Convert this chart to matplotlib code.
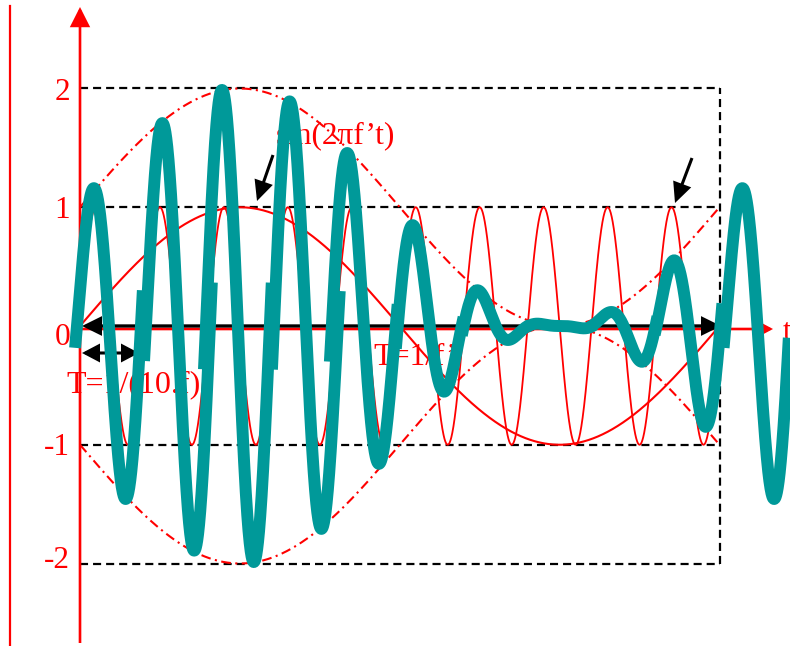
import numpy as np
import matplotlib
matplotlib.use('Agg')
import matplotlib.pyplot as plt
from matplotlib.patches import FancyArrowPatch, ArrowStyle

plt.rcParams['font.family'] = ['Liberation Serif', 'DejaVu Serif']
plt.rcParams['lines.scale_dashes'] = False

# ---------------- data ----------------
slow_period = 1.0          # T = 1/f'
fast_ratio = 10            # f = 10 f'
sum_t_end = 1.099          # the thick sum curve runs past T
ytick_values = [2, 1, 0, -1, -2]
ytick_labels = ['2', '1', '0', '-1', '-2']
dashed_levels = [2, 1, -1, -2]
label_slow = 'sin(2πf’t)'
label_T_slow = 'T=1/f’'
label_T_fast = 'T=1/(10.f)'
axis_label = 't'

# ---------------- layout helpers (pixel -> data) ----------------
W, H = 790, 646
X0, XS = 80, 639.5
Y0, YS = 326, 118.75
def tx(px):
    return (px - X0) / XS
def ty(py):
    return (Y0 - py) / YS

RED = '#ff0000'
TEAL = '#009999'
FS = 22.5

fig = plt.figure(figsize=(W / 100, H / 100), dpi=100)
ax = fig.add_axes([0, 0, 1, 1])
ax.set_xlim(tx(0), tx(W))
ax.set_ylim(ty(H), ty(0))
ax.axis('off')

def arrow(p0, p1, style, hl, hw, lw, color, z):
    a = FancyArrowPatch(p0, p1, arrowstyle=ArrowStyle(style, head_length=hl, head_width=hw),
                        mutation_scale=1, lw=lw, color=color, shrinkA=0, shrinkB=0,
                        zorder=z, joinstyle='miter', capstyle='butt')
    ax.add_patch(a)

# dashed reference box
ax.hlines(dashed_levels, 0, slow_period, colors='k', lw=1.6, linestyles=[(0, (5.8, 3.6))], zorder=2)
ax.vlines([slow_period], min(dashed_levels), max(dashed_levels), colors='k', lw=1.6,
          linestyles=[(0, (5.8, 3.6))], zorder=2)

# far-left red line and red y axis
ax.plot([tx(10), tx(10)], [ty(6), ty(646)], color=RED, lw=1.6, zorder=2)
arrow((0, ty(643)), (0, ty(7)), '-|>', 11.5, 5.8, 1.9, RED, 3)

# red t axis (its label is cut by the right edge, as in the original)
arrow((0, ty(329)), (tx(773), ty(329)), '-|>', 7.5, 4.0, 1.9, RED, 3)
ax.text(tx(783), ty(340), axis_label, color=RED, fontsize=FS, ha='left', va='baseline', zorder=1)

# curves
t = np.linspace(0, slow_period, 4000)
slow = np.sin(2 * np.pi * t / slow_period)
fast = np.sin(2 * np.pi * fast_ratio * t / slow_period)
env = 1 + slow
ax.plot(t, slow, color=RED, lw=1.5, zorder=3)
ax.plot(t, fast, color=RED, lw=1.3, zorder=3)
dd = (0, (7, 3.2, 1.5, 3.2))
ax.plot(t, env, color=RED, lw=1.5, ls=dd, zorder=3)
ax.plot(t, -env, color=RED, lw=1.5, ls=dd, zorder=3)

# black t axis double arrow
arrow((tx(82), 0), (tx(721), 0), '<|-|>', 10.5, 5.2, 2.4, 'k', 4)

# thick sum curve, drawn in one-period pieces (slightly misaligned, as in the original)
seg_dx = [-3, 2, -2, 2, -4, -2, 0, 1, 0, 1, 6]
ext = 0.003
n_seg = len(seg_dx)
for k in range(n_seg):
    a0 = k * slow_period / fast_ratio - ext
    a1 = (k + 1) * slow_period / fast_ratio + ext if k < n_seg - 1 else sum_t_end
    ts = np.linspace(a0, a1, 400)
    ys = (1 + np.sin(2 * np.pi * ts / slow_period)) * np.sin(2 * np.pi * fast_ratio * ts / slow_period)
    ax.plot(ts + seg_dx[k] / XS, ys, color=TEAL, lw=8.6, solid_capstyle='butt',
            solid_joinstyle='round', zorder=5)

# annotation arrows
arrow((tx(273), ty(155)), (tx(257), ty(201)), '-|>', 11, 5.2, 2.2, 'k', 6)
arrow((tx(692), ty(158)), (tx(675), ty(203)), '-|>', 11, 5.2, 2.2, 'k', 6)
arrow((tx(82), ty(353)), (tx(139), ty(353)), '<|-|>', 9.5, 5.0, 2.2, 'k', 4)

# texts (under the curves)
ax.text(tx(276), ty(143), label_slow, color=RED, fontsize=FS, ha='left', va='baseline', zorder=1)
ax.text(tx(373), ty(365), label_T_slow, color=RED, fontsize=FS, ha='left', va='baseline', zorder=1)
ax.text(tx(66), ty(392), label_T_fast, color=RED, fontsize=23, ha='left', va='baseline', zorder=1)

# y tick labels
tick_baseline_px = [11.5, 11, 19, 10, 4.5]
for v, lab, off in zip(ytick_values, ytick_labels, tick_baseline_px):
    ax.text(tx(70), v - off / YS, lab, color=RED, fontsize=FS, ha='right', va='baseline', zorder=1)

fig.savefig('out.png', dpi=100)
